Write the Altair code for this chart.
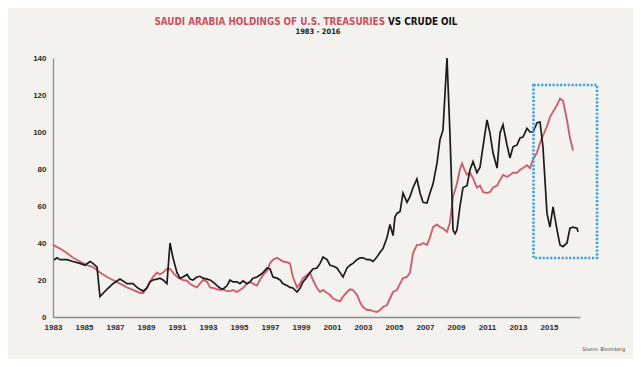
import altair as alt
import pandas as pd

# ---------------- data ----------------
oil_year = [1983.06, 1983.26, 1983.45, 1983.90, 1984.29, 1984.74, 1985.06, 1985.39, 1985.58, 1985.84,
            1986.03, 1986.48, 1986.87, 1987.32, 1987.52, 1987.77, 1988.16, 1988.42, 1988.61, 1988.81,
            1989.06, 1989.26, 1989.45, 1989.71, 1989.90, 1990.10, 1990.35, 1990.55, 1990.74, 1991.00,
            1991.19, 1991.39, 1991.65, 1991.84, 1992.03, 1992.29, 1992.48, 1992.68, 1992.94, 1993.13,
            1993.32, 1993.58, 1993.77, 1993.97, 1994.23, 1994.42, 1994.61, 1994.87, 1995.06, 1995.26,
            1995.52, 1995.71, 1995.90, 1996.16, 1996.35, 1996.55, 1996.81, 1997.00, 1997.19, 1997.45,
            1997.65, 1997.84, 1998.10, 1998.29, 1998.48, 1998.74, 1998.94, 1999.13, 1999.39, 1999.58,
            1999.77, 2000.03, 2000.23, 2000.42, 2000.68, 2000.87, 2001.06, 2001.32, 2001.52, 2001.71,
            2001.97, 2002.16, 2002.35, 2002.61, 2002.81, 2003.00, 2003.26, 2003.45, 2003.65, 2003.90,
            2004.10, 2004.29, 2004.55, 2004.74, 2004.94, 2005.06, 2005.19, 2005.39, 2005.58, 2005.84,
            2006.03, 2006.23, 2006.48, 2006.68, 2006.87, 2007.13, 2007.32, 2007.52, 2007.77, 2007.97,
            2008.16, 2008.42, 2008.61, 2008.81, 2008.94, 2009.06, 2009.26, 2009.45, 2009.71, 2009.90,
            2010.10, 2010.35, 2010.55, 2010.74, 2011.00, 2011.19, 2011.39, 2011.65, 2011.84, 2012.03,
            2012.29, 2012.48, 2012.68, 2012.94, 2013.13, 2013.32, 2013.58, 2013.77, 2013.97, 2014.23,
            2014.42, 2014.61, 2014.87, 2015.06, 2015.26, 2015.52, 2015.71, 2015.90, 2016.16, 2016.35,
            2016.55, 2016.81, 2016.87]
oil_price = [30.8, 32, 31, 31, 30, 29, 28, 30, 29, 27,
             11, 15, 18, 20.5, 19.5, 18, 18, 16, 15, 14,
             15.7, 19, 20, 20.5, 21, 20, 18, 40, 32, 24,
             21, 21.6, 23, 20.5, 20, 21.6, 22, 21, 20.5, 20,
             19, 17, 15.7, 15, 17, 20, 19, 19, 18, 19.5,
             18, 19, 21, 21.6, 22.7, 24, 26.5, 26, 21.6, 21,
             20, 18, 17, 16, 15.7, 13.5, 15.7, 19, 21.6, 24,
             26, 26.5, 29, 32.4, 31, 28, 27.6, 26.5, 24, 21.6,
             26.5, 28, 29, 31, 32, 32, 31, 31, 30, 32.4,
             35, 37, 43, 50, 44, 54, 56, 57, 67, 62,
             65, 70, 74.6, 67, 62, 61.6, 67, 72, 83, 96,
             101, 140, 99, 47, 45, 47, 60, 70, 71, 79.5,
             84, 78, 81, 92, 106.5, 99.5, 88.6, 80.5, 99.5, 104,
             93, 86, 92, 93, 96.8, 97.3, 102, 100, 100, 105,
             105.4, 92, 56, 48.6, 59.5, 47, 39, 38, 40, 48,
             48.6, 48, 46]

hold_year = [1983.00, 1983.45, 1983.90, 1984.29, 1984.74, 1985.19, 1985.58, 1986.03, 1986.48, 1986.87,
             1987.32, 1987.77, 1988.16, 1988.61, 1988.81, 1989.06, 1989.26, 1989.45, 1989.71, 1989.90,
             1990.10, 1990.35, 1990.55, 1990.74, 1991.00, 1991.39, 1991.65, 1991.84, 1992.03, 1992.29,
             1992.48, 1992.68, 1992.94, 1993.13, 1993.32, 1993.58, 1993.77, 1993.97, 1994.23, 1994.42,
             1994.61, 1994.87, 1995.06, 1995.26, 1995.52, 1995.71, 1995.90, 1996.16, 1996.35, 1996.55,
             1996.81, 1997.00, 1997.19, 1997.45, 1997.65, 1997.84, 1998.10, 1998.29, 1998.48, 1998.74,
             1998.94, 1999.13, 1999.39, 1999.58, 1999.77, 2000.03, 2000.23, 2000.42, 2000.68, 2000.87,
             2001.06, 2001.32, 2001.52, 2001.71, 2001.97, 2002.16, 2002.35, 2002.61, 2002.81, 2003.00,
             2003.26, 2003.45, 2003.65, 2003.90, 2004.10, 2004.29, 2004.55, 2004.74, 2004.94, 2005.19,
             2005.39, 2005.58, 2005.84, 2006.03, 2006.23, 2006.48, 2006.68, 2006.87, 2007.13, 2007.32,
             2007.52, 2007.77, 2007.97, 2008.16, 2008.42, 2008.61, 2008.81, 2009.06, 2009.26, 2009.39,
             2009.58, 2009.71, 2009.90, 2010.10, 2010.35, 2010.55, 2010.74, 2011.00, 2011.19, 2011.39,
             2011.65, 2011.84, 2012.03, 2012.29, 2012.48, 2012.68, 2012.94, 2013.13, 2013.32, 2013.58,
             2013.77, 2013.97, 2014.23, 2014.42, 2014.61, 2014.87, 2015.06, 2015.26, 2015.52, 2015.71,
             2015.90, 2016.16, 2016.35, 2016.55]
hold_value = [39, 37, 34.6, 32, 30, 28, 27, 24, 21.6, 20,
              18, 16, 14.6, 13, 13, 15.7, 19, 21.6, 24, 23,
              24, 26, 26, 24, 21.6, 20, 19.5, 18, 17, 16,
              18, 20, 19, 16, 15.7, 15, 14.6, 15, 14, 14,
              14.6, 13.5, 14.6, 15.7, 18, 19, 18, 17, 20, 22.7,
              25, 29, 31, 32, 31, 30, 29.6, 29, 21.6, 16,
              18, 21, 22.7, 24, 20, 15.7, 13.5, 14.6, 13, 12,
              10, 9, 8.5, 11, 13.5, 15, 14.6, 12, 8, 5.4,
              3.8, 3.8, 3.2, 2.7, 3.8, 5.4, 6.5, 10, 13.5, 14.6,
              18, 21, 21.6, 24, 34.6, 39, 39, 40, 39, 43,
              48.6, 50, 48.6, 48, 46, 51, 65, 72, 80, 83,
              79, 77, 78, 75, 70, 71, 67.6, 67, 67.6, 70,
              71, 74, 76.8, 75.7, 76.8, 78, 78, 79.5, 80.5, 82,
              80.5, 85, 89, 94, 98, 103, 108, 111, 114.6, 118,
              117, 106.5, 97, 90]

# highlight box (years / values)
box_x = [2014.0]
box_x2 = [2018.1]
box_y = [125.4]
box_y2 = [31.9]

x_ticks = list(range(1983, 2016, 2))
y_ticks = [0, 20, 40, 60, 80, 100, 120, 140]

TITLE_RED = "SAUDI ARABIA HOLDINGS OF U.S. TREASURIES"
TITLE_BLACK = "VS CRUDE OIL"
SUBTITLE = "1983 - 2016"
SOURCE = "Source: Bloomberg"

RED = "#c9505f"
BLACK = "#1b1b1b"
BG = "#f4f2ee"
FONT = "Liberation Sans Narrow, DejaVu Sans Condensed, sans-serif"

# ---------------- chart ----------------
oil_df = pd.DataFrame({"year": oil_year, "value": oil_price})
hold_df = pd.DataFrame({"year": hold_year, "value": hold_value})
box_df = pd.DataFrame({"x": box_x, "x2": box_x2, "y": box_y, "y2": box_y2})

xscale = alt.Scale(domain=[1983, 2017], nice=False, zero=False)
yscale = alt.Scale(domain=[0, 140], nice=False)

xaxis = alt.Axis(values=x_ticks, tickCount=40, format="d", title=None, grid=False, ticks=False,
                 labelFontSize=8, labelFontWeight="bold", labelColor="#2a2a2a",
                 labelFont="Liberation Sans", labelPadding=6, domainColor="#8c8c8c",
                 domainWidth=1.3, labelOverlap=False, labelFlush=False)
yaxis = alt.Axis(values=y_ticks, tickCount=20, title=None, grid=False, ticks=False,
                 labelFontSize=8, labelFontWeight="bold", labelColor="#2a2a2a",
                 labelFont="Liberation Sans", labelPadding=7, domainColor="#8c8c8c",
                 domainWidth=1.3, labelOverlap=False, labelFlush=False)

hold_line = alt.Chart(hold_df).mark_line(color=RED, strokeWidth=1.9, opacity=0.9).encode(
    x=alt.X("year:Q", scale=xscale, axis=xaxis),
    y=alt.Y("value:Q", scale=yscale, axis=yaxis),
)
oil_line = alt.Chart(oil_df).mark_line(color=BLACK, strokeWidth=1.7).encode(
    x=alt.X("year:Q", scale=xscale, axis=xaxis),
    y=alt.Y("value:Q", scale=yscale, axis=yaxis),
)
box = alt.Chart(box_df).mark_rect(fill=None, fillOpacity=0, stroke="#3ea4d8",
                                  strokeWidth=2.6, strokeDash=[2.2, 1.6]).encode(
    x="x:Q", x2="x2:Q", y="y:Q", y2="y2:Q"
)

title_red = alt.Chart(pd.DataFrame({"t": [TITLE_RED]})).mark_text(
    align="right", baseline="middle", font=FONT, fontSize=9.8, fontWeight="bold", color=RED
).encode(text="t:N", x=alt.value(332), y=alt.value(-36))
title_black = alt.Chart(pd.DataFrame({"t": [TITLE_BLACK]})).mark_text(
    align="left", baseline="middle", font=FONT, fontSize=9.8, fontWeight="bold", color="#111111"
).encode(text="t:N", x=alt.value(335), y=alt.value(-36))
subtitle = alt.Chart(pd.DataFrame({"t": [SUBTITLE]})).mark_text(
    align="center", baseline="middle", font=FONT, fontSize=7.5, fontWeight="bold", color="#222222"
).encode(text="t:N", x=alt.value(265), y=alt.value(-26))
source = alt.Chart(pd.DataFrame({"t": [SOURCE]})).mark_text(
    align="right", baseline="middle", font=FONT, fontSize=5, color="#444444"
).encode(text="t:N", x=alt.value(572), y=alt.value(32 + 259))

chart = alt.layer(hold_line, oil_line, box, title_red, title_black, subtitle, source).properties(
    width=527, height=259,
    autosize=alt.AutoSizeParams(type="none"),
    padding={"left": 45, "top": 50, "right": 53, "bottom": 42},
).configure(background=BG).configure_view(stroke=None).configure_axis(labelOverlap=False)

chart.save("out.html", embed_options={"renderer": "svg", "actions": False})
